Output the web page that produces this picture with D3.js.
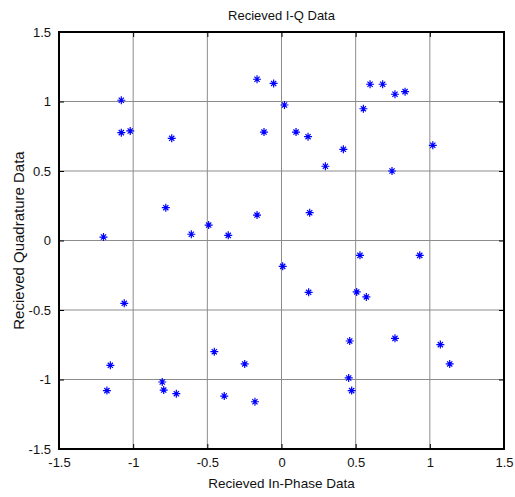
<!DOCTYPE html>
<html>
<head>
<meta charset="utf-8">
<script src="https://cdn.jsdelivr.net/npm/d3@7"></script>
<style>
  body { margin: 0; background: #fff; }
  text { font-family: "Liberation Sans", Arial, sans-serif; fill: #111; }
</style>
</head>
<body>
<div id="chart"></div>
<script>
const title = 'Recieved I-Q Data';
const xLabel = 'Recieved In-Phase Data';
const yLabel = 'Recieved Quadrature Data';
const tickValues = [-1.5, -1, -0.5, 0, 0.5, 1, 1.5];

// in-phase (I) and quadrature (Q) samples
const iValues = [
  -1.08, -1.08, -1.02, -0.74, -0.165, -0.053, 0.02, -0.118, -0.78, -0.165,
  -1.20, -0.608, -0.491, -0.359,
  0.597, 0.682, 0.765, 0.833, 0.552, 0.098, 0.179, 0.417, 0.296, 0.745, 1.02, 0.19,
  0.008, -1.06, -1.154, -1.177, -0.804, -0.794, -0.709, -0.453, -0.248, -0.386, -0.179,
  0.529, 0.932, 0.183, 0.507, 0.572, 0.46, 0.765, 1.071, 1.134, 0.453, 0.473
];
const qValues = [
  1.009, 0.776, 0.788, 0.735, 1.16, 1.13, 0.975, 0.78, 0.236, 0.183,
  0.025, 0.045, 0.111, 0.037,
  1.124, 1.124, 1.052, 1.071, 0.948, 0.78, 0.747, 0.656, 0.534, 0.5, 0.685, 0.2,
  -0.186, -0.452, -0.898, -1.08, -1.018, -1.076, -1.102, -0.8, -0.888, -1.119, -1.16,
  -0.107, -0.107, -0.373, -0.37, -0.406, -0.723, -0.704, -0.749, -0.888, -0.989, -1.08
];

const width = 515;
const height = 497;
const margin = {top: 32, right: 11, bottom: 48, left: 59};
const markerColor = '#0000ff';
const gridColor = '#8c8c8c';

const svg = d3.select('#chart')
  .append('svg')
  .attr('width', width)
  .attr('height', height);

const xScale = d3.scaleLinear()
  .domain([-1.5, 1.5])
  .range([margin.left, width - margin.right]);

const yScale = d3.scaleLinear()
  .domain([-1.5, 1.5])
  .range([height - margin.bottom, margin.top]);

const plotW = width - margin.left - margin.right;
const plotH = height - margin.top - margin.bottom;

// grid
svg.append('g')
  .selectAll('line')
  .data(tickValues.slice(1, -1))
  .join('line')
  .attr('x1', d => xScale(d)).attr('x2', d => xScale(d))
  .attr('y1', margin.top).attr('y2', height - margin.bottom)
  .attr('stroke', gridColor).attr('stroke-width', 1);

svg.append('g')
  .selectAll('line')
  .data(tickValues.slice(1, -1))
  .join('line')
  .attr('y1', d => yScale(d)).attr('y2', d => yScale(d))
  .attr('x1', margin.left).attr('x2', width - margin.right)
  .attr('stroke', gridColor).attr('stroke-width', 1);

// axes (ticks inward)
svg.append('g')
  .attr('transform', `translate(0, ${height - margin.bottom})`)
  .call(d3.axisBottom(xScale).tickValues(tickValues).tickFormat(d => String(d)).tickSize(-5).tickPadding(9));
svg.append('g')
  .attr('transform', `translate(${margin.left}, 0)`)
  .call(d3.axisLeft(yScale).tickValues(tickValues).tickFormat(d => String(d)).tickSize(-5).tickPadding(8));

// top/right inward ticks
svg.append('g')
  .attr('transform', `translate(0, ${margin.top})`)
  .call(d3.axisTop(xScale).tickValues(tickValues).tickFormat('').tickSize(-5));
svg.append('g')
  .attr('transform', `translate(${width - margin.right}, 0)`)
  .call(d3.axisRight(yScale).tickValues(tickValues).tickFormat('').tickSize(-5));

svg.selectAll('.domain').remove();
svg.selectAll('.tick line').attr('stroke', '#000');
svg.selectAll('.tick text')
  .attr('font-family', '"Liberation Sans", Arial, sans-serif')
  .attr('font-size', 13)
  .attr('fill', '#111');

// box
svg.append('rect')
  .attr('x', margin.left).attr('y', margin.top)
  .attr('width', plotW).attr('height', plotH)
  .attr('fill', 'none').attr('stroke', '#000').attr('stroke-width', 2);

// star markers
const points = iValues.map((v, i) => ({i: v, q: qValues[i]}));
const r = 4, rd = 2.6;
svg.append('g')
  .selectAll('path')
  .data(points)
  .join('path')
  .attr('transform', d => `translate(${xScale(d.i)}, ${yScale(d.q)})`)
  .attr('stroke', markerColor)
  .attr('stroke-width', 1.2)
  .attr('d', `M${-r},0H${r}M0,${-r}V${r}M${-rd},${-rd}L${rd},${rd}M${-rd},${rd}L${rd},${-rd}`);

// labels
svg.append('text')
  .attr('x', margin.left + plotW / 2).attr('y', 20)
  .attr('text-anchor', 'middle')
  .attr('font-size', 13)
  .text(title);

svg.append('text')
  .attr('x', margin.left + plotW / 2).attr('y', height - 9)
  .attr('text-anchor', 'middle')
  .attr('font-size', 13.5)
  .text(xLabel);

svg.append('text')
  .attr('transform', `translate(24, ${margin.top + plotH / 2}) rotate(-90)`)
  .attr('text-anchor', 'middle')
  .attr('font-size', 15)
  .text(yLabel);
</script>
</body>
</html>
